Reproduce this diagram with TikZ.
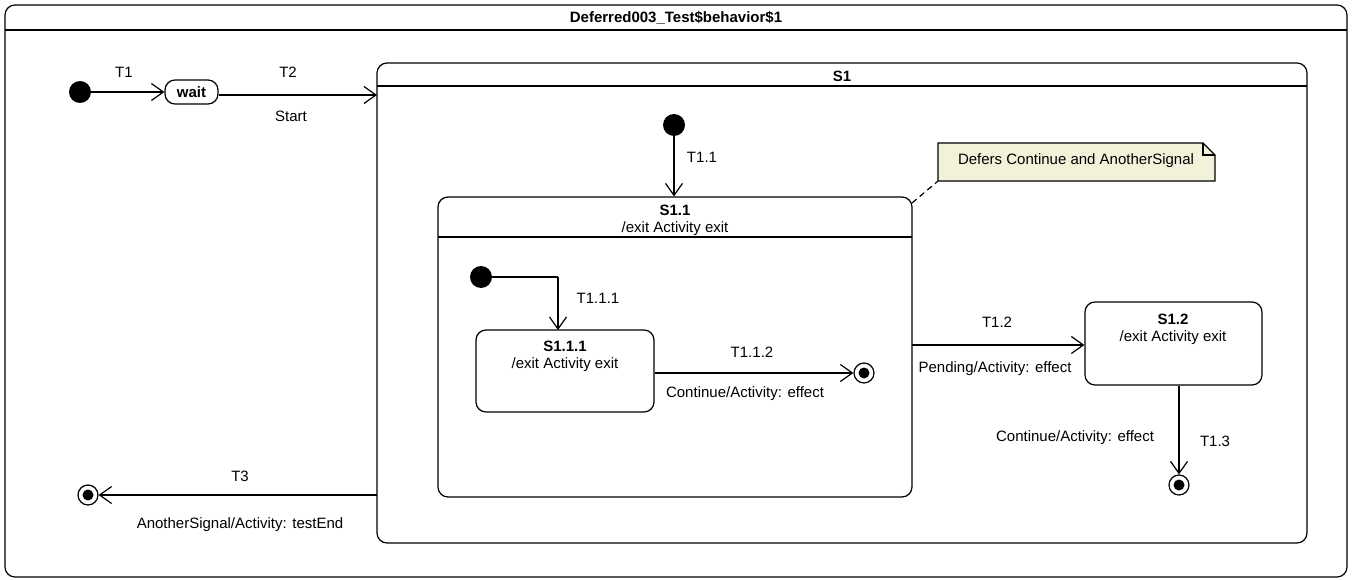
\documentclass[tikz,border=0pt]{standalone}
\usepackage{fontspec}
\setmainfont{Liberation Sans}
\usetikzlibrary{arrows.meta,calc}
\definecolor{notefill}{RGB}{242,242,218}
\tikzset{
  lw/.style={line width=1.2pt},
  frm/.style={draw, lw, rounded corners=10pt, inner sep=0pt},
  stbox/.style={draw, lw, rounded corners=10pt, inner sep=0pt},
  initst/.style={circle, fill=black, minimum size=22pt, inner sep=0pt},
  finalst/.style={circle, draw, lw, fill=white, minimum size=20pt, inner sep=0pt, path picture={\fill[black] (path picture bounding box.center) circle (5.5pt);}},
  trans/.style={lw, -{Straight Barb[length=12pt,width=17pt,line width=1.2pt]}},
  lbl/.style={font=\fontsize{15}{18}\selectfont, inner sep=0pt},
  blbl/.style={font=\fontsize{15}{18}\selectfont\bfseries, inner sep=0pt},
}
\begin{document}
\begin{tikzpicture}[x=1pt,y=-1pt]
\useasboundingbox (0,0) rectangle (1353,580);
% outer frame
\node[frm, minimum width=1342pt, minimum height=572pt] (frame) at (676,291) {};
\draw[lw] (5,30) -- (1347,30);
\node[blbl] (title) at (676,18) {Deferred003\_Test\$behavior\$1};

% S1
\node[stbox, minimum width=930pt, minimum height=480pt] (s1) at (842,303) {};
\draw[lw] (377,86) -- (1307,86);
\node[blbl] (s1t) at (842,76) {S1};

% top-level
\node[initst] (i1) at (80,92) {};
\node[stbox, minimum width=53pt, minimum height=24pt] (wait) at (191.5,92) {};
\node[blbl] (waitt) at (191.5,92) {wait};
\draw[trans] (i1) -- (wait);
\node[lbl] (lt1) at (124,72) {T1};
\coordinate (s1in) at (377,95);
\draw[trans] (wait.east |- s1in) -- (s1in);
\node[lbl] (lt2) at (288,72) {T2};
\node[lbl] (lstart) at (291,116) {Start};

\node[finalst] (f0) at (88,495) {};
\coordinate (s1out) at (377,495);
\draw[trans] (s1out) -- (f0);
\node[lbl] (lt3) at (240,476) {T3};
\node[lbl] (lt3b) at (240,525) {AnotherSignal/Activity: testEnd};

% inside S1
\node[initst] (i2) at (674,125) {};
\node[stbox, minimum width=474pt, minimum height=300pt] (s11) at (675,347) {};
\draw[lw] (438,237) -- (912,237);
\node[blbl] (s11t) at (675,210) {S1.1};
\node[lbl] (s11e) at (675,229) {/exit Activity exit};
\draw[trans] (i2) -- (i2 |- s11.north);
\node[lbl] (lt11) at (702,157) {T1.1};

% note
\node[lbl, minimum width=277pt, minimum height=38pt] (note) at (1076.5,162) {};
\draw[lw, fill=notefill] (938,143) -- (1203,143) -- (1215,155) -- (1215,181) -- (938,181) -- cycle;
\draw[lw] (1203,143) -- (1203,155) -- (1215,155);
\node[lbl] (notet) at (1076,161) {Defers Continue and AnotherSignal};
\draw[lw, dash pattern=on 6pt off 4pt] (912,203) -- (note.south west);

% inside S1.1
\node[initst] (i3) at (481,277) {};
\node[stbox, minimum width=178pt, minimum height=82pt] (s111) at (565,371) {};
\node[blbl] (s111t) at (565,346) {S1.1.1};
\node[lbl] (s111e) at (565,365) {/exit Activity exit};
\coordinate (t111) at (558,330);
\draw[lw] (i3.east) -- (558,277);
\draw[trans] (558,277) -- (t111);
\node[lbl] (lt111) at (598,298) {T1.1.1};

\node[finalst] (f1) at (864,373) {};
\draw[trans] (s111.east |- f1) -- (f1);
\node[lbl] (lt112) at (752,352) {T1.1.2};
\node[lbl] (lt112b) at (745,394) {Continue/Activity: effect};

% S1.2
\node[stbox, minimum width=177pt, minimum height=83pt] (s12) at (1173.5,343.5) {};
\node[blbl] (s12t) at (1173,319) {S1.2};
\node[lbl] (s12e) at (1173,338) {/exit Activity exit};
\coordinate (t12) at (912,345);
\draw[trans] (t12) -- (s12.west |- t12);
\node[lbl] (lt12) at (997,322) {T1.2};
\node[lbl] (lt12b) at (995,369) {Pending/Activity: effect};

\node[finalst] (f2) at (1179,485) {};
\draw[trans] (s12.south -| f2) -- (f2);
\node[lbl] (lt13) at (1215,441) {T1.3};
\node[lbl] (lt13b) at (1075,438) {Continue/Activity: effect};
\end{tikzpicture}
\end{document}
